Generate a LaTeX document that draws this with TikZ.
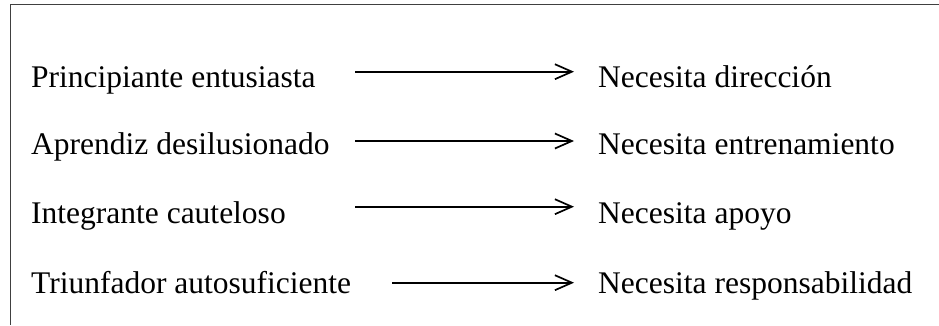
\documentclass[tikz,border=0pt]{standalone}
\usepackage{fontspec}
\setmainfont{Liberation Serif}
\usetikzlibrary{arrows.meta}
\begin{document}
\begin{tikzpicture}[x=1pt,y=-1pt,
  label/.style={anchor=base west,inner sep=0pt,font=\fontsize{31.5}{36}\selectfont},
  pointer/.style={line width=1.8pt,-{Straight Barb[length=17pt,width=15pt,line width=1.7pt]}},
  frame/.style={line width=1.3pt,draw=black!75}]
  \useasboundingbox (0,0) rectangle (939,325);
  % open frame: top and left edges
  \coordinate (ftl) at (10.5,4.5);
  \coordinate (ftr) at (939,4.5);
  \coordinate (fbl) at (10.5,325);
  \draw[frame] (ftr) -- (ftl) -- (fbl);
  % stages
  \node[label] (s1) at (31,87) {Principiante entusiasta};
  \node[label] (s2) at (31,154) {Aprendiz desilusionado};
  \node[label] (s3) at (31,223) {Integrante cauteloso};
  \node[label] (s4) at (31,293) {Triunfador autosuficiente};
  % needs
  \node[label] (n1) at (598,87) {Necesita dirección};
  \node[label] (n2) at (598,154) {Necesita entrenamiento};
  \node[label] (n3) at (598,223) {Necesita apoyo};
  \node[label] (n4) at (598,293) {Necesita responsabilidad};
  % arrow ends
  \coordinate (a1) at (355,71.7);  \coordinate (b1) at (574,71.7);
  \coordinate (a2) at (355,141);   \coordinate (b2) at (574,141);
  \coordinate (a3) at (355,206.7); \coordinate (b3) at (574,206.7);
  \coordinate (a4) at (392,282.7); \coordinate (b4) at (574,282.7);
  \draw[pointer] (a1) -- (b1);
  \draw[pointer] (a2) -- (b2);
  \draw[pointer] (a3) -- (b3);
  \draw[pointer] (a4) -- (b4);
\end{tikzpicture}
\end{document}
